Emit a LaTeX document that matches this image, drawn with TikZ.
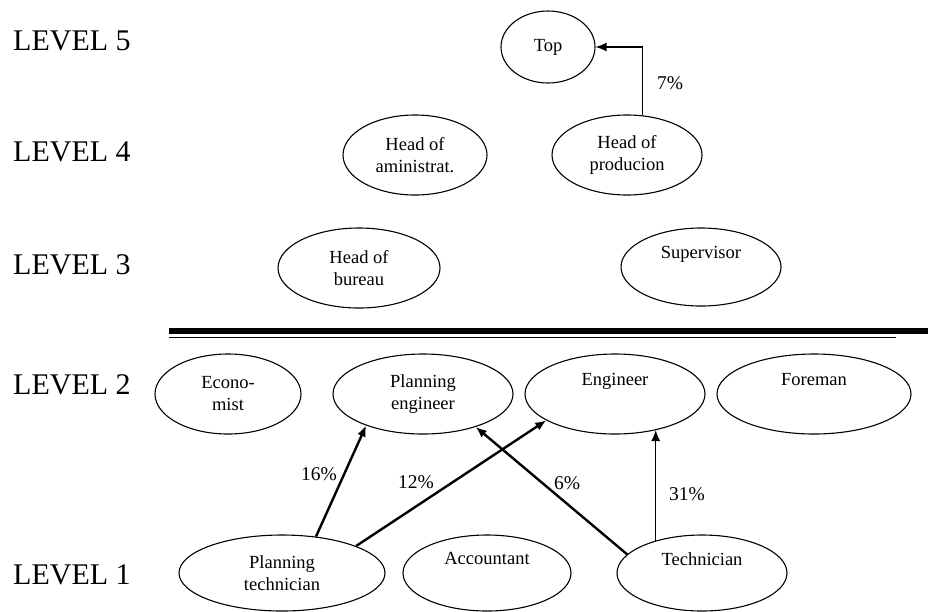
\documentclass[tikz,border=0pt]{standalone}
\usepackage{fontspec}
\setmainfont{Liberation Serif}
\usetikzlibrary{shapes.geometric,arrows.meta}
\begin{document}
\begin{tikzpicture}[x=1pt,y=-1pt,
  box/.style={draw, ellipse, line width=1.1pt, inner sep=0pt, align=center, font=\fontsize{18.5}{22}\selectfont},
  lvl/.style={anchor=base west, inner sep=0pt, font=\fontsize{30}{36}\selectfont},
  pct/.style={inner sep=0pt, font=\fontsize{19.5}{22}\selectfont},
  thinarrow/.style={line width=1.2pt, -{Latex[length=11pt,width=9pt]}},
  thickarrow/.style={line width=2.4pt, -{Latex[length=11pt,width=9pt]}},
  sep/.style={line width=#1}]
\useasboundingbox (0,0) rectangle (928,611);

% level labels
\node[lvl] (l5) at (13,50) {LEVEL 5};
\node[lvl] (l4) at (13,161) {LEVEL 4};
\node[lvl] (l3) at (13,274) {LEVEL 3};
\node[lvl] (l2) at (13,394) {LEVEL 2};
\node[lvl] (l1) at (13,584) {LEVEL 1};

% nodes
\node[box, minimum width=94pt, minimum height=72pt] (top) at (548,47) {Top};
\node[box, minimum width=144pt, minimum height=80pt] (hadm) at (415,155) {Head of\\aministrat.};
\node[box, minimum width=150pt, minimum height=80pt] (hprod) at (627,155) {Head of\\producion};
\node[box, minimum width=162pt, minimum height=80pt] (hbur) at (359,268) {Head of\\bureau};
\node[box, minimum width=160pt, minimum height=78pt] (sup) at (701,267) {Supervisor\\\strut};
\node[box, minimum width=146pt, minimum height=80pt] (econ) at (228,394) {Econo-\\mist};
\node[box, minimum width=180pt, minimum height=80pt] (peng) at (423,394) {Planning\\engineer};
\node[box, minimum width=180pt, minimum height=80pt] (eng) at (615,394) {Engineer\\\strut};
\node[box, minimum width=194pt, minimum height=80pt] (fore) at (814,394) {Foreman\\\strut};
\node[box, minimum width=206pt, minimum height=76pt] (ptech) at (282,573) {Planning\\technician};
\node[box, minimum width=168pt, minimum height=76pt] (acc) at (487,573) {Accountant\\\strut};
\node[box, minimum width=170pt, minimum height=76pt] (tech) at (702,573) {Technician\\\strut};

% separator
\coordinate (sA) at (169,330.5);
\coordinate (sB) at (928,330.5);
\coordinate (sC) at (169,337.5);
\coordinate (sD) at (896,337.5);
\draw[sep=6pt] (sA) -- (sB);
\draw[sep=1.8pt] (sC) -- (sD);

% connectors
\draw[thinarrow] (hprod.69) |- (top.east);
\draw[thickarrow] (ptech.47) -- (peng.209);
\draw[thickarrow] (ptech.20) -- (eng.201);
\draw[thickarrow] (tech.166) -- (peng.328);
\coordinate (e31) at (tech.145 |- eng.319);
\draw[thinarrow] (tech.145) -- (e31);

% percentages
\node[pct] (p7) at (670,83) {7\%};
\node[pct] (p16) at (319,474) {16\%};
\node[pct] (p12) at (416,482) {12\%};
\node[pct] (p6) at (567,483) {6\%};
\node[pct] (p31) at (687,494) {31\%};
\end{tikzpicture}
\end{document}
